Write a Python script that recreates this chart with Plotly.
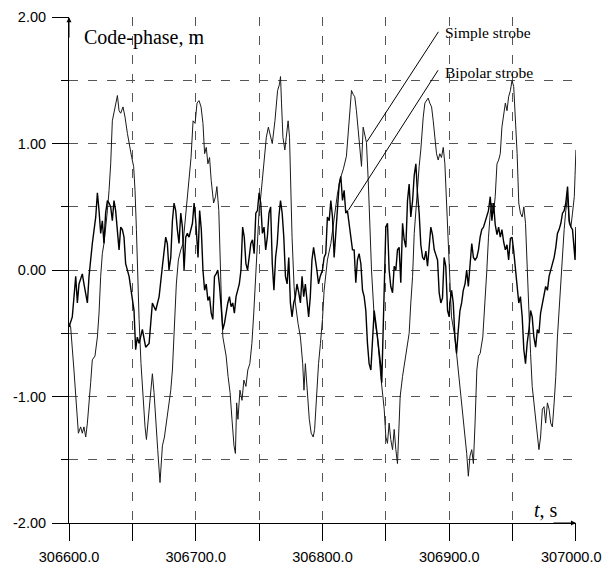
import plotly.graph_objects as go

# ---------------- data ----------------
T0 = 306600.0

simple_t = [0, 1.3, 3.9, 5.8, 7.4, 9.2, 10.5, 11.8, 13.2, 14.5, 15.8, 17.1, 18.4, 20.5, 22.4, 23.7, 25, 26.3, 27.6, 28.9,
            30.3, 31.6, 32.9, 34.2, 35.5, 36.8, 38.2, 39.5, 40.8, 42.6, 44.2, 46.1, 47.9, 49.5, 51, 52.1, 53.2, 54.2, 55.3,
            56.8, 58.4, 60, 61.1, 62.6, 64.2, 65.8, 67.1, 68.4, 70, 71.8, 73.7, 75.3, 76.8, 78.4, 80.3, 81.6, 83.2, 84.7,
            86.3, 88.2, 90, 91.6, 93.2, 94.7, 96.3, 97.9, 99.5, 101, 102.6, 104.2, 105.7, 107, 108.3, 109.6, 110.9, 112.2,
            114.1, 115.6, 116.7, 118.2, 119.3, 120.3, 121.4, 122.9, 124, 125.5, 127.1, 128.6, 130.2, 131.3, 132.3, 133.3,
            134.9, 136.5, 138, 139.6, 141.1, 142.7, 144.3, 145.8, 147.4, 149, 150, 151.3, 153.9, 155.7, 157.3, 160.4,
            162.5, 164.6, 166.1, 166.9, 167.7, 168.8, 170.3, 171.4, 172.9, 174, 175, 176, 177.6, 178.6, 180.7, 182.6,
            184.4, 185.4, 186.5, 187.8, 189.6, 191.1, 192.7, 193.8, 195.3, 196.9, 198.4, 200, 201.3, 203.9, 206.6, 209,
            211.8, 214, 216.5, 218.9, 220.5, 221.6, 222.9, 224.2, 225.5, 226.8, 228.2, 229.5, 230.8, 232.1, 233.4, 234.7,
            236.1, 237.4, 238.7, 240.8, 243.4, 246, 248.7, 250, 251.3, 252.6, 253.9, 255.3, 256.6, 257.9, 259.2, 260.5,
            261.3, 263.2, 265.8, 267.1, 268.4, 269.7, 271.1, 272.4, 273.7, 275, 276.3, 277.6, 278.6, 279.5, 280.8, 282.1,
            283.4, 284.7, 286.1, 287.4, 288.7, 290, 291.3, 292.6, 293.9, 295.3, 296.6, 297.9, 299.2, 300.5, 301.8, 304.5,
            307.2, 309.8, 311.1, 312.5, 313.8, 315.1, 316.4, 317.8, 319.1, 320.4, 321.8, 323.1, 324.4, 326.5, 328.4, 329.7,
            331, 332.4, 333.7, 335, 336.3, 337.7, 339, 340.3, 341.6, 343, 344.3, 345.6, 346.9, 348.3, 349.6, 350.9, 352.3,
            353.6, 354.9, 356.2, 357.6, 358.9, 360.2, 361.5, 362.9, 364.2, 365.5, 367.4, 369, 370.8, 372.1, 373.5, 374.8,
            376.1, 377.5, 378.8, 380.1, 381.4, 382.8, 384.1, 385.4, 386.7, 388.1, 389.4, 390.7, 392, 393.4, 394.7, 396,
            397.3, 398.7, 399.3, 400]
simple_v = [-0.42, -0.45, -0.79, -1.05, -1.29, -1.24, -1.29, -1.24, -1.32, -1.21, -1.08, -0.89, -0.71, -0.68, -0.53, -0.34,
            -0.05, 0.13, 0.21, 0.32, 0.47, 0.63, 0.84, 1.18, 1.24, 1.29, 1.38, 1.26, 1.24, 1.29, 1.21, 1.08, 0.97, 0.89,
            0.82, 0.63, 0.32, -0.05, -0.39, -0.74, -1.0, -1.24, -1.34, -1.18, -0.95, -0.82, -0.97, -1.21, -1.42, -1.68,
            -1.39, -1.32, -1.21, -1.08, -0.95, -0.79, -0.42, -0.11, 0.08, 0.16, 0.21, 0.37, 0.53, 0.68, 0.89, 1.18, 1.16,
            1.32, 1.34, 1.29, 1.16, 0.92, 0.97, 0.84, 0.89, 0.71, 0.53, 0.58, 0.66, 0.47, 0.0, -0.26, -0.53, -0.61, -0.68,
            -0.84, -0.97, -1.18, -1.39, -1.45, -1.05, -1.18, -0.95, -1.03, -0.87, -0.92, -0.79, -0.74, -0.58, -0.34, -0.05,
            0.21, 0.47, 0.58, 0.84, 1.05, 1.13, 1.0, 1.18, 1.42, 1.47, 1.53, 1.32, 1.05, 0.95, 1.05, 1.18, 1.05, 0.66, 0.26,
            -0.13, -0.26, -0.42, -0.53, -0.74, -0.95, -0.74, -0.95, -1.18, -1.29, -1.32, -1.26, -0.95, -0.74, -0.58, -0.39,
            -0.16, 0.08, 0.21, 0.4, 0.6, 0.72, 0.8, 0.9, 1.1, 1.25, 1.42, 1.39, 1.37, 1.26, 1.11, 0.92, 0.82, 1.13, 1.08,
            1.01, 0.71, 0.39, 0.0, -0.37, -0.53, -0.84, -1.1, -1.32, -1.37, -1.21, -1.34, -1.42, -1.26, -1.42, -1.53, -1.21,
            -1.0, -0.84, -0.68, -0.58, -0.5, -0.26, -0.05, 0.29, 0.47, 0.68, 0.82, 0.95, 1.11, 1.21, 1.32, 1.34, 1.36, 1.32,
            1.29, 1.18, 1.05, 0.92, 0.87, 0.92, 0.89, 0.97, 0.84, 0.53, 0.26, -0.05, -0.37, -0.53, -0.79, -1.05, -1.18,
            -1.34, -1.45, -1.63, -1.47, -1.42, -1.53, -1.21, -0.79, -0.68, -0.66, -0.53, -0.26, 0.0, 0.26, 0.45, 0.53, 0.45,
            0.58, 0.84, 0.87, 0.92, 1.13, 1.24, 1.32, 1.26, 1.37, 1.42, 1.5, 1.45, 1.18, 0.92, 0.53, 0.45, 0.42, 0.5, 0.37,
            0.0, -0.39, -0.66, -0.92, -1.1, -1.26, -1.42, -1.32, -1.1, -1.08, -1.21, -1.05, -1.1, -1.21, -1.24, -1.05,
            -0.84, -0.53, -0.32, -0.05, 0.1, 0.32, 0.47, 0.58, 0.37, 0.34, 0.45, 0.58, 0.75, 0.95]

bipolar_t = [0, 2.6, 5.3, 6.6, 7.9, 10.5, 11.8, 13.2, 14.5, 15.8, 18.4, 21.1, 22.4, 23.7, 25, 26.3, 27.6, 28.9, 30.3, 31.6,
             32.9, 34.2, 35.5, 36.8, 39.5, 40.8, 42.1, 43.4, 44.7, 47.4, 50, 51.3, 52.6, 53.9, 55.3, 57.9, 60.5, 63.2,
             64.5, 65.8, 68.4, 71.1, 73.7, 76.3, 77.6, 78.9, 80.3, 81.6, 82.9, 84.2, 85.5, 86.8, 88.2, 89.5, 90.8, 92.1,
             93.4, 94.7, 97.4, 98.7, 100, 100.8, 101.8, 103.1, 104.4, 105.7, 107, 108.3, 109.6, 110.9, 112.2, 113.5, 114.8,
             116.1, 117.4, 118.8, 120.1, 121.4, 122.7, 124, 125.3, 126.6, 127.9, 129.2, 130.5, 131.8, 133.1, 134.4, 135.7,
             137, 138.3, 139.6, 140.9, 142.2, 143.5, 144.8, 146.1, 147.4, 148.7, 150, 151.3, 152.6, 153.9, 155.2, 156.5,
             157.8, 159.1, 160.4, 161.7, 163, 164.3, 165.6, 166.9, 168.2, 169.5, 170.8, 172.1, 173.4, 174.7, 176, 177.3,
             178.6, 179.9, 181.3, 182.6, 183.9, 185.2, 186.5, 187.8, 189.1, 190.4, 191.7, 193, 194.3, 195.6, 196.9, 198.2,
             200, 201.3, 202.6, 203.9, 205.3, 206.6, 207.9, 209.2, 210.5, 211.8, 213.2, 214.5, 215.8, 217.1, 218.4, 219.7,
             221.1, 222.4, 223.7, 225, 226.3, 227.6, 228.9, 230.3, 231.6, 232.9, 234.2, 235.5, 236.8, 238.2, 239.5, 240.8,
             242.1, 243.4, 244.7, 246, 246.8, 247.6, 248.7, 250, 251.3, 252.6, 253.9, 255.3, 256.6, 257.9, 259.2, 260.5,
             261.8, 263.2, 264.5, 265.8, 267.1, 268.4, 269.7, 271.1, 272.4, 273.7, 275, 276.3, 277.6, 279, 280.3, 281.6,
             282.9, 284.2, 285.5, 286.8, 288.2, 289.5, 290.8, 292.1, 293.4, 294.7, 296, 297.3, 298.7, 300, 300.5, 301.9,
             303.2, 304.5, 305.8, 307.2, 308.5, 309.8, 311.1, 312.5, 313.8, 315.1, 316.4, 317.8, 319.1, 320.4, 321.8,
             323.1, 324.4, 325.7, 327.1, 328.4, 329.7, 331, 332.4, 333.7, 335, 336.3, 337.7, 339, 340.3, 341.6, 343,
             344.3, 345.6, 346.9, 348.3, 349.6, 350.9, 352.3, 353.6, 354.9, 356.2, 357.6, 358.9, 360.2, 361.5, 362.9,
             364.2, 365.5, 366.8, 368.2, 369.5, 370.8, 372.1, 373.5, 374.8, 376.1, 377.5, 378.8, 380.1, 381.4, 382.8,
             384.1, 385.4, 386.7, 388.1, 389.4, 390.7, 392, 393.4, 394.7, 396, 397.3, 398.7, 399.3, 400]
bipolar_v = [-0.45, -0.37, -0.05, -0.26, -0.11, -0.03, -0.11, -0.18, -0.26, -0.05, 0.21, 0.42, 0.61, 0.47, 0.29, 0.39,
             0.21, 0.45, 0.55, 0.53, 0.5, 0.39, 0.55, 0.47, 0.16, 0.34, 0.32, 0.26, 0.05, -0.05, -0.24, -0.32, -0.63,
             -0.53, -0.58, -0.47, -0.61, -0.58, -0.42, -0.26, -0.32, -0.21, 0.03, 0.26, 0.21, 0.0, 0.1, 0.39, 0.53, 0.47,
             0.32, 0.21, 0.45, 0.34, 0.0, 0.26, 0.29, 0.26, 0.37, 0.53, 0.39, 0.21, 0.1, 0.47, 0.32, 0.0, -0.16, -0.11,
             -0.24, -0.21, -0.34, -0.39, -0.05, -0.03, 0.0, -0.13, -0.34, -0.47, -0.42, -0.32, -0.26, -0.21, -0.29, -0.26,
             -0.34, -0.21, -0.16, -0.11, 0.0, 0.34, 0.26, 0.05, 0.0, 0.13, 0.21, 0.24, 0.13, 0.45, 0.47, 0.61, 0.53, 0.29,
             0.34, 0.16, 0.26, 0.45, 0.5, 0.05, -0.16, 0.1, 0.21, 0.42, 0.55, 0.45, 0.26, -0.05, -0.11, 0.1, -0.26, -0.37,
             -0.26, -0.21, -0.11, -0.18, -0.26, -0.05, -0.21, -0.11, -0.26, -0.37, -0.21, 0.08, 0.18, 0.1, 0.0, -0.11,
             -0.05, 0.0, 0.1, 0.13, 0.42, 0.39, 0.55, 0.42, 0.1, 0.29, 0.47, 0.68, 0.74, 0.55, 0.63, 0.45, 0.47, 0.37,
             0.26, 0.16, 0.16, -0.1, 0.08, 0.13, 0.05, -0.16, -0.21, -0.32, -0.58, -0.74, -0.79, -0.53, -0.32, -0.42,
             -0.53, -0.63, -0.76, -0.89, -0.6, -0.21, 0.34, 0.37, 0.0, -0.13, -0.18, 0.03, 0.0, 0.16, 0.18, -0.1, 0.37,
             0.24, 0.18, 0.55, 0.68, 0.42, 0.55, 0.75, 0.84, 0.6, 0.45, 0.2, 0.1, 0.08, 0.15, 0.03, 0.2, 0.34, 0.28, 0.16,
             0.12, 0.08, -0.18, -0.26, -0.22, 0.1, 0.03, -0.32, -0.37, -0.26, -0.16, -0.26, -0.53, -0.66, -0.47, -0.32,
             -0.26, -0.16, -0.11, 0.0, -0.13, 0.08, 0.21, 0.1, 0.08, 0.1, 0.16, 0.26, 0.32, 0.34, 0.39, 0.42, 0.47, 0.58,
             0.39, 0.53, 0.36, 0.28, 0.34, 0.26, 0.32, 0.22, 0.16, 0.2, 0.08, 0.25, 0.26, 0.15, 0.0, -0.08, -0.26, -0.21,
             -0.37, -0.63, -0.74, -0.58, -0.47, -0.32, -0.37, -0.53, -0.61, -0.47, -0.5, -0.34, -0.26, -0.21, -0.13,
             -0.16, -0.05, 0.0, 0.05, 0.1, 0.18, 0.29, 0.32, 0.37, 0.45, 0.47, 0.53, 0.66, 0.39, 0.34, 0.32, 0.1, 0.08,
             0.34]

x_tick_vals = [306600, 306700, 306800, 306900, 307000]
x_tick_text = ["306600.0", "306700.0", "306800.0", "306900.0", "307000.0"]
y_tick_vals = [-2, -1, 0, 1, 2]
y_tick_text = ["-2.00", "-1.00", "0.00", "1.00", "2.00"]

series_names = ["Simple strobe", "Bipolar strobe"]

# annotation geometry (data coordinates)
simple_label_xy = (306895.0, 1.875)
simple_leader = (306891.5, 1.884, 306835.0, 1.014)
bipolar_label_xy = (306895.0, 1.565)
bipolar_leader = (306891.2, 1.58, 306820.5, 0.474)

# ---------------- figure ----------------
fig = go.Figure()
fig.add_trace(go.Scatter(x=[T0 + t for t in simple_t], y=simple_v, mode="lines",
                         line=dict(color="#1a1a1a", width=1.0), name=series_names[0],
                         showlegend=False, hoverinfo="skip"))
fig.add_trace(go.Scatter(x=[T0 + t for t in bipolar_t], y=bipolar_v, mode="lines",
                         line=dict(color="#000000", width=1.4), name=series_names[1],
                         showlegend=False, hoverinfo="skip"))

tick_font = dict(family="Liberation Sans, Arial", size=14.5, color="#000")
grid_dash = "9px,10px"
# last x label is drawn as a right-anchored annotation so it stays inside the page
fig.update_xaxes(range=[306600, 307000.05], tickmode="array", tickvals=x_tick_vals,
                 ticktext=x_tick_text[:-1] + [""],
                 ticks="outside", ticklen=17, tickwidth=1, tickcolor="#000",
                 showline=True, linecolor="#000", linewidth=1,
                 showgrid=True, gridcolor="#555", gridwidth=1, griddash=grid_dash,
                 zeroline=False, automargin=False, ticklabeloverflow="allow", ticklabelstandoff=4,
                 tickfont=tick_font,
                 minor=dict(tickmode="linear", tick0=306600, dtick=50, ticks="outside", ticklen=17,
                            tickcolor="#000", showgrid=True, gridcolor="#555", gridwidth=1, griddash=grid_dash))
fig.update_yaxes(range=[-2, 2.001], tickmode="array", tickvals=y_tick_vals, ticktext=y_tick_text,
                 ticks="outside", ticklen=16, tickwidth=1, tickcolor="#000",
                 showline=True, linecolor="#000", linewidth=1,
                 showgrid=True, gridcolor="#555", gridwidth=1, griddash=grid_dash,
                 zeroline=False, automargin=False, ticklabeloverflow="allow", ticklabelstandoff=3,
                 tickfont=tick_font,
                 minor=dict(tickmode="linear", tick0=-2, dtick=0.5, ticks="outside", ticklen=7,
                            tickcolor="#000", showgrid=True, gridcolor="#555", gridwidth=1, griddash=grid_dash))

serif = "Liberation Serif, Times New Roman, serif"
annotations = [
    dict(x=306610.5, y=1.842, xref="x", yref="y", text="Code-phase, m", showarrow=False,
         xanchor="left", yanchor="middle", font=dict(family=serif, size=20, color="#000")),
    dict(x=306976, y=-1.897, xref="x", yref="y", text="<i>t</i>, s", showarrow=False,
         xanchor="center", yanchor="middle", font=dict(family=serif, size=20, color="#000")),
    dict(x=simple_label_xy[0], y=simple_label_xy[1], xref="x", yref="y", text=series_names[0], showarrow=False,
         xanchor="left", yanchor="middle", font=dict(family=serif, size=15.5, color="#000")),
    dict(x=bipolar_label_xy[0], y=bipolar_label_xy[1], xref="x", yref="y", text=series_names[1], showarrow=False,
         xanchor="left", yanchor="middle", font=dict(family=serif, size=15.5, color="#000")),
    # last x tick label
    dict(x=1, y=0, xref="paper", yref="paper", text=x_tick_text[-1], showarrow=False,
         xanchor="right", yanchor="middle", xshift=27, yshift=-34, font=tick_font),
    # axis arrows
    dict(x=306600, y=2, xref="x", yref="y", text="", showarrow=True, ax=0, ay=22,
         arrowhead=2, arrowsize=1, arrowwidth=1, arrowcolor="#000", standoff=0),
    dict(x=307000, y=-2, xref="x", yref="y", text="", showarrow=True, ax=-24, ay=0,
         arrowhead=2, arrowsize=1, arrowwidth=1, arrowcolor="#000", standoff=0),
]

shapes = [
    dict(type="line", xref="x", yref="y", x0=simple_leader[0], y0=simple_leader[1],
         x1=simple_leader[2], y1=simple_leader[3], line=dict(color="#000", width=1)),
    dict(type="line", xref="x", yref="y", x0=bipolar_leader[0], y0=bipolar_leader[1],
         x1=bipolar_leader[2], y1=bipolar_leader[3], line=dict(color="#000", width=1)),
]

fig.update_layout(width=604, height=564, autosize=False,
                  margin=dict(l=69, r=28, t=17, b=41, pad=0),
                  paper_bgcolor="white", plot_bgcolor="white",
                  showlegend=False, annotations=annotations, shapes=shapes)

fig.write_html("out.html")
